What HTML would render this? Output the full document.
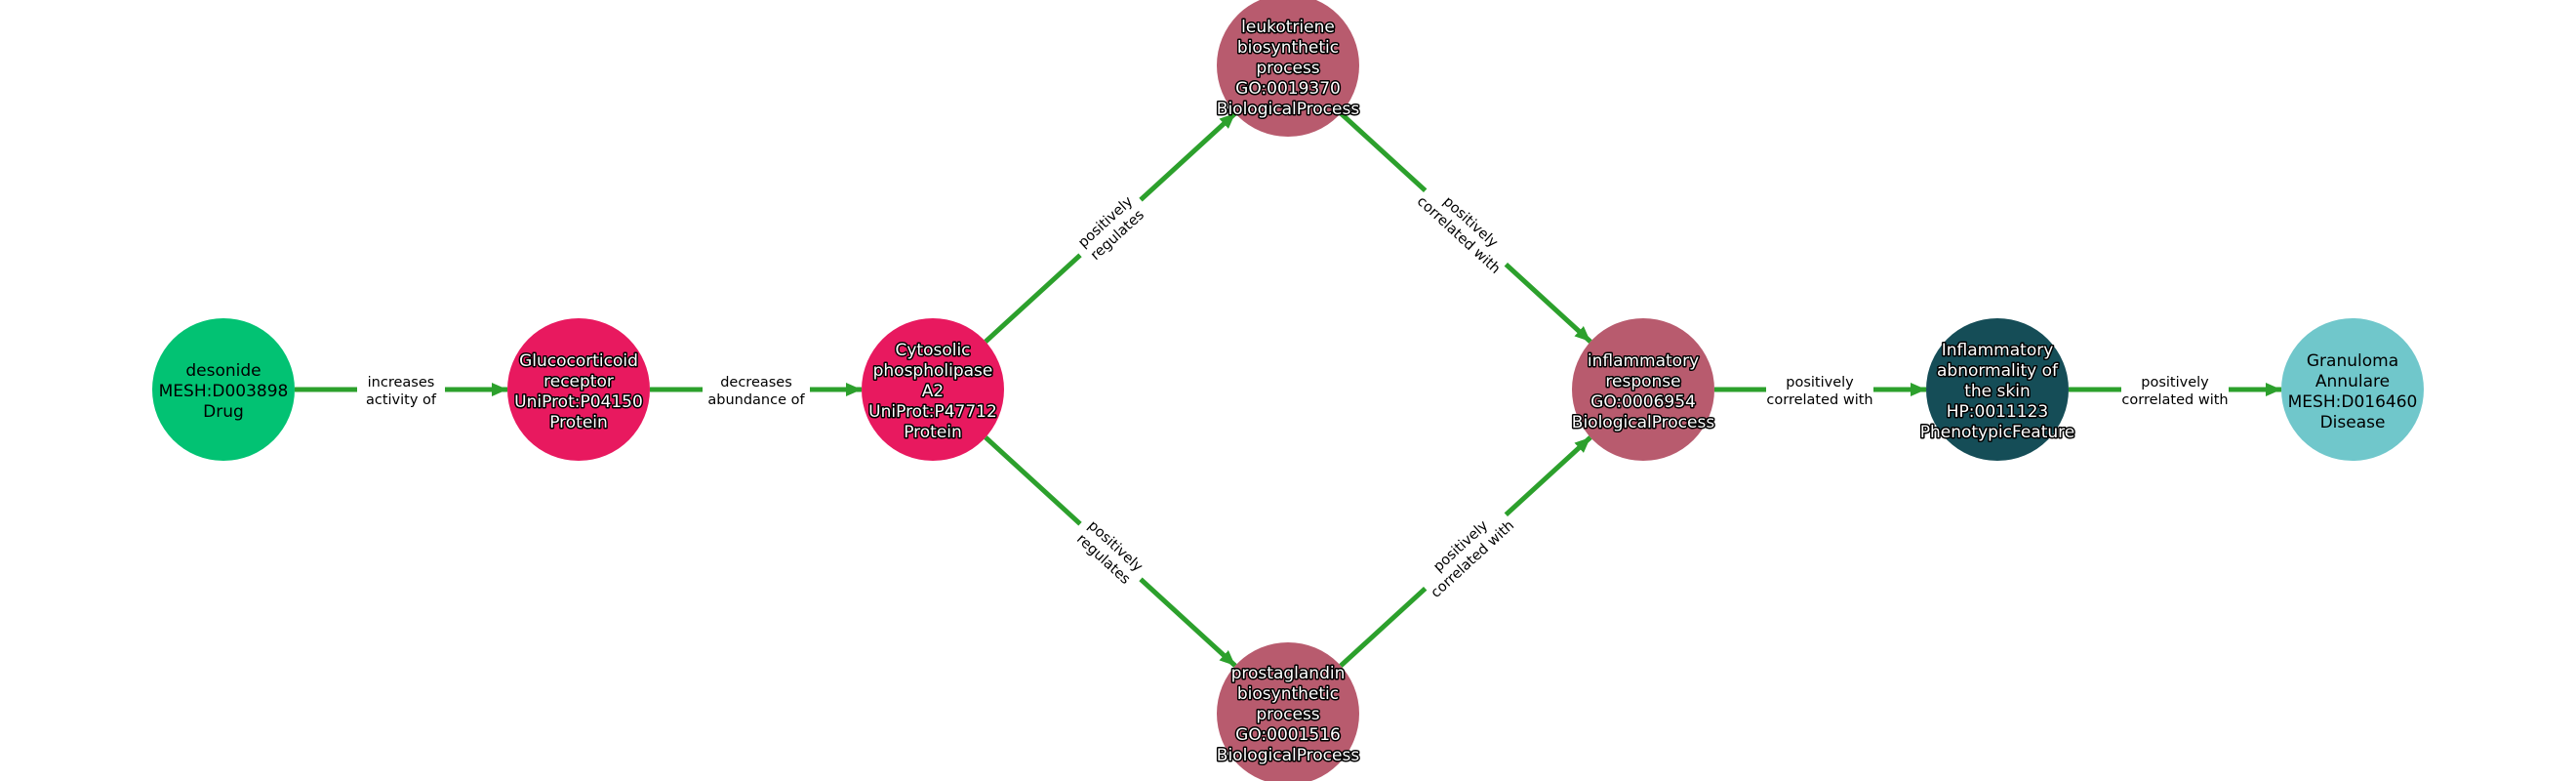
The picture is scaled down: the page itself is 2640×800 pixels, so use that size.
<!DOCTYPE html>
<html><head><meta charset="utf-8"><style>
html,body{margin:0;padding:0;background:#fff;}
svg{display:block;}
text{font-family:"DejaVu Sans","Liberation Sans",sans-serif;}
.n{font-size:17px;text-anchor:middle;}
.w{fill:#fff;stroke:#000;stroke-width:3px;paint-order:stroke;stroke-linejoin:round;}
.b{fill:#000;}
.e{font-size:14.5px;text-anchor:middle;fill:#000;}
line{stroke:#2ca02c;stroke-width:5;}
</style></head><body>
<svg width="2640" height="800" viewBox="0 0 2640 800" xmlns="http://www.w3.org/2000/svg">
<defs><marker id="a" markerUnits="userSpaceOnUse" markerWidth="16" markerHeight="14" refX="16" refY="7" orient="auto"><path d="M0,0 L16,7 L0,14 z" fill="#2ca02c"/></marker></defs>
<line x1="302" y1="399" x2="520" y2="399" marker-end="url(#a)"/>
<line x1="666" y1="399" x2="883" y2="399" marker-end="url(#a)"/>
<line x1="1010" y1="350" x2="1266" y2="116" marker-end="url(#a)"/>
<line x1="1010" y1="448" x2="1266" y2="682" marker-end="url(#a)"/>
<line x1="1374" y1="116" x2="1630" y2="350" marker-end="url(#a)"/>
<line x1="1374" y1="682" x2="1630" y2="448" marker-end="url(#a)"/>
<line x1="1757" y1="399" x2="1974" y2="399" marker-end="url(#a)"/>
<line x1="2120" y1="399" x2="2338" y2="399" marker-end="url(#a)"/>
<g><rect x="366" y="380" width="90" height="38" fill="#fff"/><text class="e" x="411" y="396">increases</text><text class="e" x="411" y="414">activity of</text></g>
<g><rect x="720" y="380" width="110" height="38" fill="#fff"/><text class="e" x="775" y="396">decreases</text><text class="e" x="775" y="414">abundance of</text></g>
<g transform="translate(1138,233) rotate(-42.4)"><rect x="-42" y="-19" width="84" height="38" fill="#fff"/><text class="e" x="0" y="-3">positively</text><text class="e" x="0" y="15">regulates</text></g>
<g transform="translate(1138,565) rotate(42.4)"><rect x="-42" y="-19" width="84" height="38" fill="#fff"/><text class="e" x="0" y="-3">positively</text><text class="e" x="0" y="15">regulates</text></g>
<g transform="translate(1502,233) rotate(42.4)"><rect x="-56" y="-19" width="112" height="38" fill="#fff"/><text class="e" x="0" y="-3">positively</text><text class="e" x="0" y="15">correlated with</text></g>
<g transform="translate(1502,565) rotate(-42.4)"><rect x="-56" y="-19" width="112" height="38" fill="#fff"/><text class="e" x="0" y="-3">positively</text><text class="e" x="0" y="15">correlated with</text></g>
<g><rect x="1810" y="380" width="110" height="38" fill="#fff"/><text class="e" x="1865" y="396">positively</text><text class="e" x="1865" y="414">correlated with</text></g>
<g><rect x="2174" y="380" width="110" height="38" fill="#fff"/><text class="e" x="2229" y="396">positively</text><text class="e" x="2229" y="414">correlated with</text></g>
<circle cx="229" cy="399" r="73" fill="#02c273"/>
<circle cx="593" cy="399" r="73" fill="#e8195f"/>
<circle cx="956" cy="399" r="73" fill="#e8195f"/>
<circle cx="1320" cy="67" r="73" fill="#b85b6e"/>
<circle cx="1320" cy="731" r="73" fill="#b85b6e"/>
<circle cx="1684" cy="399" r="73" fill="#b85b6e"/>
<circle cx="2047" cy="399" r="73" fill="#154d57"/>
<circle cx="2411" cy="399" r="73" fill="#70c7cb"/>
<text class="n b"><tspan x="229" y="385">desonide</tspan><tspan x="229" y="406">MESH:D003898</tspan><tspan x="229" y="427">Drug</tspan></text>
<text class="n w"><tspan x="593" y="375">Glucocorticoid</tspan><tspan x="593" y="396">receptor</tspan><tspan x="593" y="417">UniProt:P04150</tspan><tspan x="593" y="438">Protein</tspan></text>
<text class="n w"><tspan x="956" y="364">Cytosolic</tspan><tspan x="956" y="385">phospholipase</tspan><tspan x="956" y="406">A2</tspan><tspan x="956" y="427">UniProt:P47712</tspan><tspan x="956" y="448">Protein</tspan></text>
<text class="n w"><tspan x="1320" y="33">leukotriene</tspan><tspan x="1320" y="54">biosynthetic</tspan><tspan x="1320" y="75">process</tspan><tspan x="1320" y="96">GO:0019370</tspan><tspan x="1320" y="117">BiologicalProcess</tspan></text>
<text class="n w"><tspan x="1320" y="695">prostaglandin</tspan><tspan x="1320" y="716">biosynthetic</tspan><tspan x="1320" y="737">process</tspan><tspan x="1320" y="758">GO:0001516</tspan><tspan x="1320" y="779">BiologicalProcess</tspan></text>
<text class="n w"><tspan x="1684" y="375">inflammatory</tspan><tspan x="1684" y="396">response</tspan><tspan x="1684" y="417">GO:0006954</tspan><tspan x="1684" y="438">BiologicalProcess</tspan></text>
<text class="n w"><tspan x="2047" y="364">Inflammatory</tspan><tspan x="2047" y="385">abnormality of</tspan><tspan x="2047" y="406">the skin</tspan><tspan x="2047" y="427">HP:0011123</tspan><tspan x="2047" y="448">PhenotypicFeature</tspan></text>
<text class="n b"><tspan x="2411" y="375">Granuloma</tspan><tspan x="2411" y="396">Annulare</tspan><tspan x="2411" y="417">MESH:D016460</tspan><tspan x="2411" y="438">Disease</tspan></text>
</svg>
</body></html>
